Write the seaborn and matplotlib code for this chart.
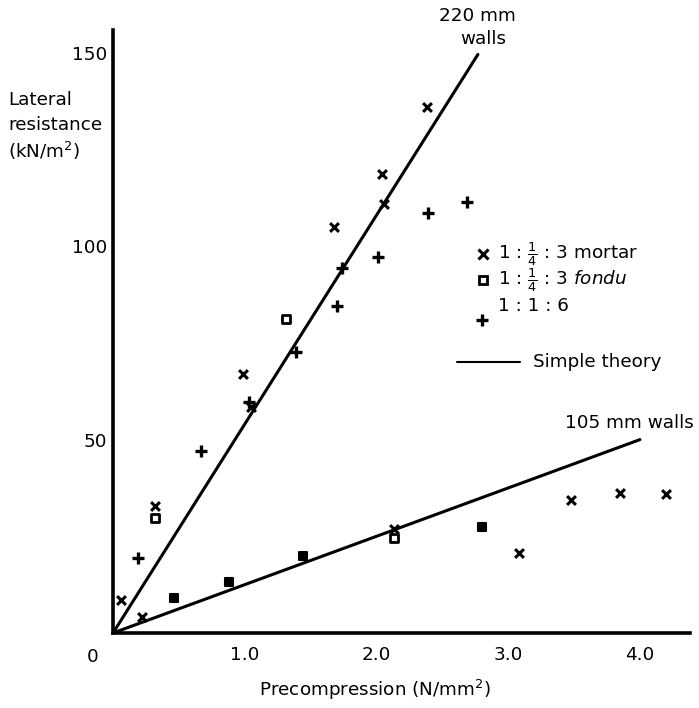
import matplotlib
matplotlib.use("Agg")
import matplotlib.pyplot as plt
import seaborn as sns
import numpy as np
import pandas as pd

# 1:1/4:3 mortar (x markers)
mortar_x = [2.38, 2.04, 2.06, 1.68, 0.99, 1.05, 0.32, 0.06, 0.22, 2.13, 3.08, 3.48, 3.85, 4.20]
mortar_y = [136.0, 118.6, 110.9, 105.0, 66.9, 58.4, 32.9, 8.5, 4.1, 26.8, 20.6, 34.4, 36.3, 35.9]

# 1:1/4:3 fondu (square markers); solid ones are overlapping repeat tests
fondu_x = [1.31, 0.32, 2.13, 0.46, 0.88, 1.44, 2.80]
fondu_y = [81.1, 29.7, 24.5, 9.0, 13.3, 20.0, 27.5]
fondu_solid = [False, False, False, True, True, True, True]

# 1:1:6 mortar (+ markers)
mix116_x = [2.39, 2.69, 2.01, 1.74, 1.70, 1.39, 1.03, 0.67, 0.19]
mix116_y = [108.7, 111.4, 97.1, 94.3, 84.6, 72.7, 59.8, 47.1, 19.3]

# simple theory: lateral resistance proportional to precompression
wall_labels = ["220 mm walls", "105 mm walls"]
theory_slope = [54.0, 12.5]
theory_xmax = [2.77, 4.0]

x_ticks = [1.0, 2.0, 3.0, 4.0]
y_ticks = [50, 100, 150]

FS = 13.2

sns.set_style("white")
plt.rcParams["font.family"] = ["DejaVu Sans"]
plt.rcParams["text.color"] = "black"
plt.rcParams["xtick.color"] = "black"
plt.rcParams["ytick.color"] = "black"

fig = plt.figure(figsize=(6.99, 7.08), dpi=100)
ax = fig.add_axes([113 / 699, 75 / 708, 577 / 699, 603 / 708])

# theory lines
for slope, xm in zip(theory_slope, theory_xmax):
    xs = np.array([0.0, xm])
    sns.lineplot(x=xs, y=slope * xs, color="black", linewidth=2.2, ax=ax,
                 legend=False, sort=False)

# data points
sns.scatterplot(x=mortar_x, y=mortar_y, marker="x", s=40, color="black",
                linewidth=2.2, ax=ax, legend=False, zorder=3)
fondu = pd.DataFrame({"x": fondu_x, "y": fondu_y, "solid": fondu_solid})
sns.scatterplot(data=fondu[~fondu["solid"]], x="x", y="y", marker="s", s=30,
                facecolor="white", edgecolor="black", linewidth=2.0, ax=ax,
                legend=False, zorder=3)
sns.scatterplot(data=fondu[fondu["solid"]], x="x", y="y", marker="s", s=38,
                facecolor="black", edgecolor="black", linewidth=1.5, ax=ax,
                legend=False, zorder=3)
sns.scatterplot(x=mix116_x, y=mix116_y, marker="+", s=70, color="black",
                linewidth=2.4, ax=ax, legend=False, zorder=3)

# axes styling
ax.set_xlim(0, 4.38)
ax.set_ylim(0, 155.9)
for side in ["top", "right"]:
    ax.spines[side].set_visible(False)
for side in ["left", "bottom"]:
    ax.spines[side].set_linewidth(2.6)
    ax.spines[side].set_color("black")
ax.set_xticks(x_ticks)
ax.set_yticks(y_ticks)
ax.set_xticklabels([f"{v:.1f}" for v in x_ticks])
ax.set_yticklabels([str(v) for v in y_ticks])
ax.set_yticks([25, 75, 125], minor=True)
ax.tick_params(axis="both", which="major", direction="inout", length=7, width=2.0,
               labelsize=FS, colors="black")
ax.tick_params(axis="x", pad=6)
ax.tick_params(axis="y", pad=1)
ax.tick_params(axis="y", which="minor", direction="inout", length=4, width=1.0,
               color="#888888")
ax.set_xlabel("")
ax.set_ylabel("")
ax.text(-0.11, -3.8, "0", ha="right", va="top", fontsize=FS)

# axis titles
fig.text(8 / 699, 1 - 100 / 708, "Lateral", ha="left", va="center", fontsize=FS)
fig.text(8 / 699, 1 - 125 / 708, "resistance", ha="left", va="center", fontsize=FS)
fig.text(8 / 699, 1 - 151 / 708, "(kN/m$^2$)", ha="left", va="center", fontsize=FS)
fig.text(375 / 699, 1 - 690 / 708, "Precompression (N/mm$^2$)", ha="center",
         va="center", fontsize=FS)

# wall labels
ax.text(2.77, 159.5, "220 mm", ha="center", va="center", fontsize=FS, clip_on=False)
ax.text(2.81, 153.6, "walls", ha="center", va="center", fontsize=FS, clip_on=False)
ax.text(3.43, 54.3, "105 mm walls", ha="left", va="center", fontsize=FS, clip_on=False)

# key
ax.plot([2.81], [98.0], marker="x", ms=7, mew=2.2, color="black", linestyle="none")
ax.text(2.92, 98.0, r"1 : $\frac{1}{4}$ : 3 mortar", ha="left", va="center", fontsize=FS)
ax.plot([2.81], [91.3], marker="s", ms=6, mew=2.0, mfc="white", mec="black",
        linestyle="none")
ax.text(2.92, 91.3, r"1 : $\frac{1}{4}$ : 3 $\mathit{fondu}$", ha="left",
        va="center", fontsize=FS)
ax.plot([2.80], [80.9], marker="+", ms=9, mew=2.4, color="black", linestyle="none")
ax.text(2.92, 84.6, "1 : 1 : 6", ha="left", va="center", fontsize=FS)
ax.plot([2.61, 3.09], [70.1, 70.1], color="black", linewidth=1.5)
ax.text(3.19, 70.1, "Simple theory", ha="left", va="center", fontsize=FS)

fig.savefig("out.png", dpi=100, facecolor="white")
